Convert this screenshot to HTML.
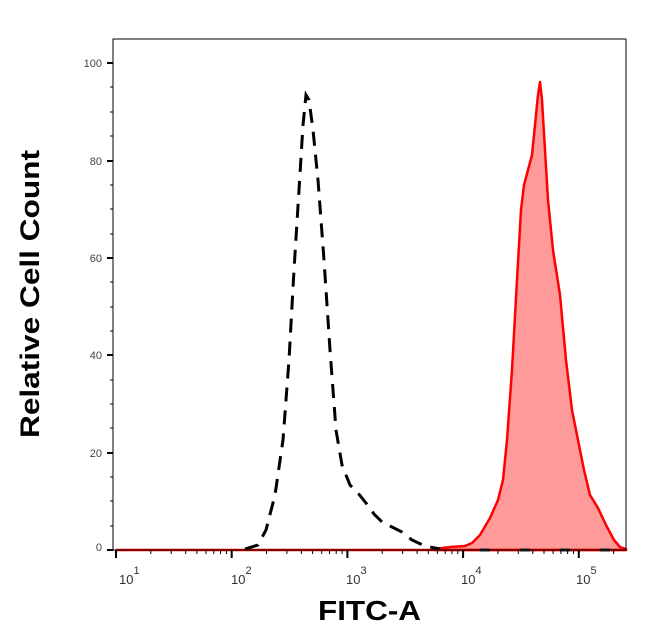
<!DOCTYPE html>
<html><head><style>body{margin:0;background:#fff}svg{display:block}</style></head><body>
<svg width="646" height="641" viewBox="0 0 646 641" xmlns="http://www.w3.org/2000/svg" font-family="Liberation Sans, sans-serif">
<rect width="646" height="641" fill="#fff"/>
<path d="M435,549 L450,547 L465,546 L472,543 L480,535 L490,518 L498,500 L503,480 L507,440 L512,370 L517,280 L521,210 L524,185 L528,170 L532,155 L535,125 L538,95 L540,82 L542,100 L545,150 L548,200 L553,250 L560,295 L566,360 L572,410 L578,440 L584,470 L590,495 L598,508 L606,525 L614,540 L620,547 L626,549 L626,550 L435,550 Z" fill="#ff9a9a" stroke="#ff0000" stroke-width="2.5" stroke-linejoin="round"/>
<line x1="116" y1="550" x2="626" y2="550" stroke="#ff0000" stroke-width="2.5"/>
<path d="M245,549 L258,545 L266,530 L275,495 L283,440 L289,360 L294,270 L299,190 L303,125 L306,95 L309,100 L313,130 L318,180 L324,260 L330,350 L336,430 L342,465 L350,485 L358,493 L366,503 L374,514 L382,522 L392,527 L402,532 L412,540 L425,546 L440,549" fill="none" stroke="#000" stroke-width="3" stroke-dasharray="14,9"/>
<line x1="480" y1="550" x2="626" y2="550" stroke="#222" stroke-width="3" stroke-dasharray="10,30"/>
<rect x="113" y="39" width="513" height="511" fill="none" stroke="#000" stroke-width="1"/>
<g stroke="#000">
<line x1="107" y1="63" x2="113" y2="63" stroke-width="2"/>
<line x1="107" y1="161" x2="113" y2="161" stroke-width="2"/>
<line x1="107" y1="258" x2="113" y2="258" stroke-width="2"/>
<line x1="107" y1="355" x2="113" y2="355" stroke-width="2"/>
<line x1="107" y1="453" x2="113" y2="453" stroke-width="2"/>
<line x1="107" y1="550" x2="113" y2="550" stroke-width="2"/>
<g stroke-width="1">
<line x1="110" y1="87" x2="113" y2="87"/><line x1="110" y1="112" x2="113" y2="112"/><line x1="110" y1="136" x2="113" y2="136"/>
<line x1="110" y1="185" x2="113" y2="185"/><line x1="110" y1="209" x2="113" y2="209"/><line x1="110" y1="234" x2="113" y2="234"/>
<line x1="110" y1="282" x2="113" y2="282"/><line x1="110" y1="307" x2="113" y2="307"/><line x1="110" y1="331" x2="113" y2="331"/>
<line x1="110" y1="380" x2="113" y2="380"/><line x1="110" y1="404" x2="113" y2="404"/><line x1="110" y1="428" x2="113" y2="428"/>
<line x1="110" y1="477" x2="113" y2="477"/><line x1="110" y1="501" x2="113" y2="501"/><line x1="110" y1="526" x2="113" y2="526"/>
</g>
</g>
<g font-size="11" fill="#444" text-anchor="end">
<text x="102" y="67">100</text><text x="102" y="165">80</text><text x="102" y="262">60</text><text x="102" y="359">40</text><text x="102" y="457">20</text><text x="102" y="551">0</text>
</g>
<g stroke="#000" stroke-width="1">
<line x1="116" y1="550" x2="116" y2="558" stroke-width="2"/>
<line x1="150.8" y1="550" x2="150.8" y2="554"/><line x1="171.2" y1="550" x2="171.2" y2="554"/><line x1="185.7" y1="550" x2="185.7" y2="554"/><line x1="196.9" y1="550" x2="196.9" y2="554"/><line x1="206" y1="550" x2="206" y2="554"/><line x1="213.8" y1="550" x2="213.8" y2="554"/><line x1="220.5" y1="550" x2="220.5" y2="554"/><line x1="226.4" y1="550" x2="226.4" y2="554"/>
<line x1="231.7" y1="550" x2="231.7" y2="558" stroke-width="2"/>
<line x1="266.5" y1="550" x2="266.5" y2="554"/><line x1="286.9" y1="550" x2="286.9" y2="554"/><line x1="301.4" y1="550" x2="301.4" y2="554"/><line x1="312.6" y1="550" x2="312.6" y2="554"/><line x1="321.7" y1="550" x2="321.7" y2="554"/><line x1="329.5" y1="550" x2="329.5" y2="554"/><line x1="336.2" y1="550" x2="336.2" y2="554"/><line x1="342.1" y1="550" x2="342.1" y2="554"/>
<line x1="347.4" y1="550" x2="347.4" y2="558" stroke-width="2"/>
<line x1="382.2" y1="550" x2="382.2" y2="554"/><line x1="402.6" y1="550" x2="402.6" y2="554"/><line x1="417.1" y1="550" x2="417.1" y2="554"/><line x1="428.3" y1="550" x2="428.3" y2="554"/><line x1="437.4" y1="550" x2="437.4" y2="554"/><line x1="445.2" y1="550" x2="445.2" y2="554"/><line x1="451.9" y1="550" x2="451.9" y2="554"/><line x1="457.8" y1="550" x2="457.8" y2="554"/>
<line x1="463.1" y1="550" x2="463.1" y2="558" stroke-width="2"/>
<line x1="497.9" y1="550" x2="497.9" y2="554"/><line x1="518.3" y1="550" x2="518.3" y2="554"/><line x1="532.8" y1="550" x2="532.8" y2="554"/><line x1="544" y1="550" x2="544" y2="554"/><line x1="553.1" y1="550" x2="553.1" y2="554"/><line x1="560.9" y1="550" x2="560.9" y2="554"/><line x1="567.6" y1="550" x2="567.6" y2="554"/><line x1="573.5" y1="550" x2="573.5" y2="554"/>
<line x1="578.8" y1="550" x2="578.8" y2="558" stroke-width="2"/>
<line x1="613.6" y1="550" x2="613.6" y2="554"/>
</g>
<g font-size="13" fill="#333">
<text x="119" y="584">10<tspan font-size="11" dy="-10">1</tspan></text>
<text x="231" y="584">10<tspan font-size="11" dy="-10">2</tspan></text>
<text x="346" y="584">10<tspan font-size="11" dy="-10">3</tspan></text>
<text x="461" y="584">10<tspan font-size="11" dy="-10">4</tspan></text>
<text x="576" y="584">10<tspan font-size="11" dy="-10">5</tspan></text>
</g>
<text x="318" y="620" font-size="28" font-weight="bold" textLength="103" lengthAdjust="spacingAndGlyphs">FITC-A</text>
<text transform="translate(39,438) rotate(-90)" font-size="27" font-weight="bold" textLength="288" lengthAdjust="spacingAndGlyphs">Relative Cell Count</text>
</svg>
</body></html>
